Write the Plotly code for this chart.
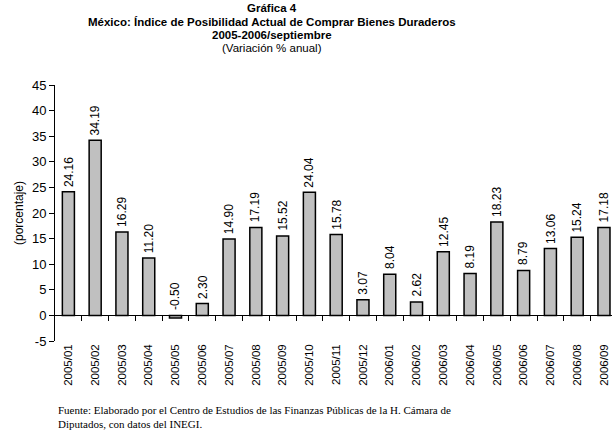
import plotly.graph_objects as go

categories = ["2005/01", "2005/02", "2005/03", "2005/04", "2005/05", "2005/06", "2005/07",
              "2005/08", "2005/09", "2005/10", "2005/11", "2005/12", "2006/01", "2006/02",
              "2006/03", "2006/04", "2006/05", "2006/06", "2006/07", "2006/08", "2006/09"]
values = [24.16, 34.19, 16.29, 11.20, -0.50, 2.30, 14.90, 17.19, 15.52, 24.04, 15.78, 3.07,
          8.04, 2.62, 12.45, 8.19, 18.23, 8.79, 13.06, 15.24, 17.18]
y_ticks = [-5, 0, 5, 10, 15, 20, 25, 30, 35, 40, 45]

W, H = 612, 433
ML, MR, MT, MB = 55, 0, 85, 92
PW, PH = W - ML - MR, H - MT - MB


def px(xp):
    return (xp - ML) / PW


def py(yp):
    return (H - MB - yp) / PH


idx = list(range(len(categories)))
y_min, y_max = -5, 45
x_range = [-0.5, 20.3]

fig = go.Figure()
fig.add_trace(go.Bar(
    x=idx, y=values, width=0.45,
    marker=dict(color="#C0C0C0", line=dict(color="black", width=1.5)),
    hoverinfo="skip",
))
# invisible trace to carry the zero-crossing axis with Excel-style ticks
fig.add_trace(go.Scatter(x=[0], y=[0], xaxis="x2", mode="markers",
                         marker=dict(opacity=0), hoverinfo="skip", showlegend=False))

for i, v in zip(idx, values):
    fig.add_annotation(x=i, y=max(v, 0), text=f"{v:.2f}", textangle=-90, showarrow=False,
                       yanchor="bottom", xanchor="center", yshift=3,
                       font=dict(family="Liberation Sans, Arial", size=12, color="black"))

title_x = px(272)
title_lines = [("<b>Gráfica 4</b>", 8), ("<b>México: Índice de Posibilidad Actual de Comprar Bienes Duraderos</b>", 22),
               ("<b>2005-2006/septiembre</b>", 35), ("(Variación % anual)", 48)]
for txt, ypix in title_lines:
    fig.add_annotation(xref="paper", yref="paper", x=title_x, y=py(ypix),
                       text=txt, showarrow=False, xanchor="center", yanchor="middle",
                       font=dict(family="Liberation Sans, Arial", size=11.5, color="black"))

fig.add_annotation(xref="paper", yref="paper", x=px(56), y=py(402),
                   text="Fuente: Elaborado por el Centro de Estudios de las Finanzas Públicas de la H. Cámara de<br>Diputados, con datos del INEGI.",
                   showarrow=False, xanchor="left", yanchor="top", align="left",
                   font=dict(family="Liberation Serif, Times New Roman", size=11, color="black"))

zero_pos = (0 - y_min) / (y_max - y_min)

fig.update_layout(
    width=W, height=H,
    margin=dict(l=ML, r=MR, t=MT, b=MB, autoexpand=False),
    paper_bgcolor="white", plot_bgcolor="white",
    showlegend=False,
    xaxis=dict(range=x_range, tickmode="array", tickvals=idx, ticktext=categories,
               tickangle=-90, showline=False, ticks="", showgrid=False, zeroline=False,
               automargin=False, ticklabeloverflow="allow",
               tickfont=dict(family="Liberation Sans, Arial", size=11.5, color="black")),
    xaxis2=dict(overlaying="x", range=x_range, anchor="free", position=zero_pos,
                tickmode="array", tickvals=[i + 0.5 for i in idx[:-1]], ticks="outside",
                ticklen=5, tickcolor="black", showticklabels=False, showline=True,
                linecolor="black", linewidth=1, showgrid=False, zeroline=False, side="bottom",
                automargin=False),
    yaxis=dict(range=[y_min, y_max], tickmode="array", tickvals=y_ticks,
               ticktext=[str(t) for t in y_ticks], ticks="outside",
               ticklen=5, tickcolor="black", showline=True, linecolor="black", linewidth=1,
               showgrid=False, zeroline=False, automargin=False,
               tickfont=dict(family="Liberation Sans, Arial", size=13, color="black"),
               title=dict(text="(porcentaje)", standoff=5,
                          font=dict(family="Liberation Sans, Arial", size=12, color="black"))),
)

fig.write_html("out.html", config={"displayModeBar": False},
               post_script="document.body.style.margin='0';")
